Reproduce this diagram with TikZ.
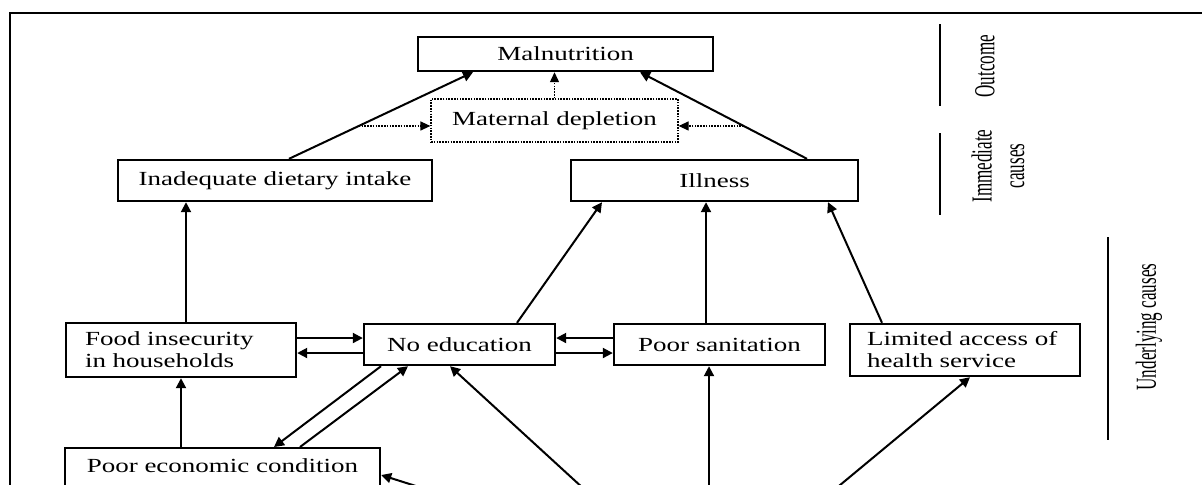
\documentclass[tikz,border=0pt]{standalone}
\usepackage{fontspec}
\setmainfont{Liberation Serif}
\newfontfamily\boxfont[FakeStretch=1.35]{Liberation Serif}
\newfontfamily\sidefont[FakeStretch=0.59]{Liberation Serif}
\usetikzlibrary{arrows.meta}

\tikzset{
  box/.style={draw, rectangle, line width=1.2pt, inner sep=0pt,
    font=\boxfont\fontsize{10}{11}\selectfont},
  dotbox/.style={line width=0.6pt, dash pattern=on 0.8pt off 0.6pt},
  twoline/.style={align=left, inner xsep=9.5pt, text width=96pt, minimum height=27pt},
  side/.style={rotate=90, align=center, inner sep=0pt,
    font=\sidefont\fontsize{14.5}{16.3}\selectfont},
  arr/.style={line width=1pt, -{Triangle[length=5pt,width=5pt]}},
  dotarr/.style={line width=0.6pt, dash pattern=on 0.8pt off 0.6pt,
    -{Triangle[length=5pt,width=4.5pt]}}
}

\begin{document}
\begin{tikzpicture}[x=0.5pt, y=-0.5pt]

      \useasboundingbox (0,0) rectangle (1202,484);
      \clip (0,0) rectangle (1202,484);
      \draw[line width=1.1pt] (10,13) rectangle (1240,530);

      \begin{scope}[every node/.style={box}]
        \node[minimum width=147.5pt, minimum height=17pt]   (1) at (565.5,54)    {Malnutrition};
        \node[dotbox, minimum width=123.5pt, minimum height=21.5pt] (2) at (554.5,120.5) {Maternal depletion};
        \node[minimum width=157pt, minimum height=20.5pt]   (3) at (275,180.5)   {Inadequate dietary intake};
        \node[minimum width=143.5pt, minimum height=20.5pt] (4) at (714.5,180.5) {Illness};
        \node[twoline]                                      (5) at (181,350)     {Food insecurity\\in households};
        \node[minimum width=95.5pt, minimum height=20.5pt]  (6) at (459.5,344.5) {No education};
        \node[minimum width=105.5pt, minimum height=20.5pt] (7) at (719.5,344.5) {Poor sanitation};
        \node[twoline, inner xsep=8.5pt, text width=98pt, minimum height=26pt] (8) at (965,350) {Limited access of\\health service};
        \node[anchor=north, minimum width=157.5pt, inner ysep=3pt,
              text height=9.25pt, text depth=22pt]          (9) at (222.5,447)   {Poor economic condition};
      \end{scope}

      \begin{scope}[every node/.style={side}]
        \node (10) at (985,66)    {Outcome};
        \node (11) at (998,166)   {Immediate\\causes};
        \node (12) at (1149,327)  {Underlying causes};
      \end{scope}

      \draw[line width=1.1pt] (940,24) -- (940,106);
      \draw[line width=1.1pt] (940,133) -- (940,215);
      \draw[line width=1.1pt] (1108,237) -- (1108,440);

      \coordinate (b1) at (596,500);
      \coordinate (b2) at (709,500);
      \coordinate (b3) at (822,500);
      \coordinate (b4) at (460,500);

      \draw[arr] ([xshift=7pt]3.north) -- coordinate[pos=.379] (l1) ([xshift=-46.25pt]1.south);
      \draw[arr] ([xshift=46.25pt]4.north) -- coordinate[pos=.379] (r1) ([xshift=37.25pt]1.south);
      \draw[dotarr] (l1) -- (l1 -| 2.west);
      \draw[dotarr] (r1) -- (r1 -| 2.east);
      \draw[dotarr] (2.north) -- (2.north |- 1.south);

      \begin{scope}[every edge/.style={draw, arr}]
        \path ([xshift=2.5pt]5.north)    edge ([xshift=-44.5pt]3.south);
        \path ([xshift=-20.75pt]9.north) edge (5.south);
        \path ([yshift=6pt]5.east)       edge ([yshift=3.25pt]6.west);
        \path ([yshift=-4.25pt]6.west)   edge ([yshift=-1.5pt]5.east);
        \path ([yshift=3.25pt]7.west)    edge ([yshift=3.25pt]6.east);
        \path ([yshift=-4.25pt]6.east)   edge ([yshift=-4.25pt]7.west);
        \path ([xshift=28.75pt]6.north)  edge ([xshift=-56.25pt]4.south);
        \path ([xshift=-6.75pt]7.north)  edge ([xshift=-4.25pt]4.south);
        \path ([xshift=-41.5pt]8.north)  edge ([xshift=56.75pt]4.south);
        \path ([xshift=-39.25pt]6.south) edge ([xshift=25.75pt]9.north);
        \path ([xshift=38.75pt]9.north)  edge ([xshift=-25.75pt]6.south);
        \path (b1) edge ([xshift=-4.75pt]6.south);
        \path (b2) edge ([xshift=-5.25pt]7.south);
        \path (b3) edge ([xshift=2.5pt]8.south);
        \path (b4) edge ([yshift=-14pt]9.north east);
      \end{scope}

    \end{tikzpicture}
\end{document}
